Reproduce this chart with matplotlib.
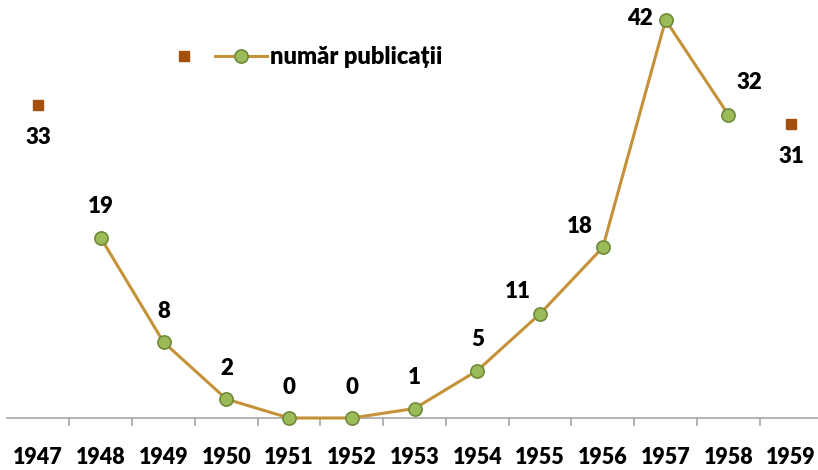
import numpy as np
import matplotlib
matplotlib.use('Agg')
import matplotlib.pyplot as plt
from matplotlib.lines import Line2D

plt.rcParams['font.family'] = ['Lato', 'DejaVu Sans']
plt.rcParams['font.weight'] = 'heavy'

# data
years = ['1947', '1948', '1949', '1950', '1951', '1952', '1953',
         '1954', '1955', '1956', '1957', '1958', '1959']
line_years = years[1:12]
line_values = [19, 8, 2, 0, 0, 1, 5, 11, 18, 42, 32]
edge_years = ['1947', '1959']
edge_values = [33, 31]
series_label = 'număr publicații'

# label offsets in pixels (dx, dy) relative to each point
line_offsets = [(0, 31), (0, 31), (0, 31), (0, 31), (0, 31), (0, 31), (0, 31),
                (-22, 22), (-23, 21), (-26, 1), (21, 32)]
edge_offsets = [(0, -32), (0, -32)]

line_color = '#C49238'
marker_face = '#9BBB59'
marker_edge = '#6F8A3A'
square_color = '#A3500F'

fig = plt.figure(figsize=(8.18, 4.70), dpi=100)
ax = fig.add_axes([6.7 / 818, 52 / 470, (818 - 6.7) / 818, 417 / 470])

idx = {y: i for i, y in enumerate(years)}
xl = [idx[y] for y in line_years]
xe = [idx[y] for y in edge_years]

ax.plot(xl, line_values, color=line_color, lw=2.2, marker='o', ms=9.5,
        mfc=marker_face, mec=marker_edge, mew=1.2, clip_on=False, zorder=3)
ax.plot(xe, edge_values, ls='none', marker='s', ms=6.5, color=square_color,
        clip_on=False, zorder=3)

px = 72 / 100
for x, v, (dx, dy) in zip(xl, line_values, line_offsets):
    ax.annotate(str(v), (x, v), xytext=(dx * px, dy * px), textcoords='offset points',
                ha='center', va='center', fontsize=16, fontweight='heavy')
for x, v, (dx, dy) in zip(xe, edge_values, edge_offsets):
    ax.annotate(str(v), (x, v), xytext=(dx * px, dy * px), textcoords='offset points',
                ha='center', va='center', fontsize=16, fontweight='heavy')

for s in ['top', 'right', 'left']:
    ax.spines[s].set_visible(False)
ax.spines['bottom'].set_color('#A6A6A6')
ax.spines['bottom'].set_linewidth(1.2)
ax.set_yticks([])

ax.set_xticks(np.arange(len(years)) + 0.5)
ax.set_xticklabels([])
ax.tick_params(axis='x', which='major', length=6, width=1.2, color='#A6A6A6')
ax.set_xticks(np.arange(len(years)), minor=True)
ax.set_xticklabels(years, minor=True, fontsize=15.5, fontweight='heavy')
ax.tick_params(axis='x', which='minor', length=0, pad=21)

# limits after ticks, so the ticks do not widen the view
ax.set_xlim(-0.5, (818 - 6.7) / 62.75 - 0.5)
ax.set_ylim(0, 44)

handles = [Line2D([], [], ls='none', marker='s', ms=6.5, color=square_color),
           Line2D([], [], color=line_color, lw=2.2, marker='o', ms=9.5,
                  mfc=marker_face, mec=marker_edge, mew=1.2)]
fig.legend(handles, ['', series_label], ncol=2, frameon=False,
           loc='center left', bbox_to_anchor=(158 / 818, 1 - 57 / 470),
           handlelength=2.2, handletextpad=0.12, columnspacing=0.1,
           borderaxespad=0, borderpad=0, prop={'weight': 'heavy', 'size': 17})

fig.savefig('out.png', dpi=100)
